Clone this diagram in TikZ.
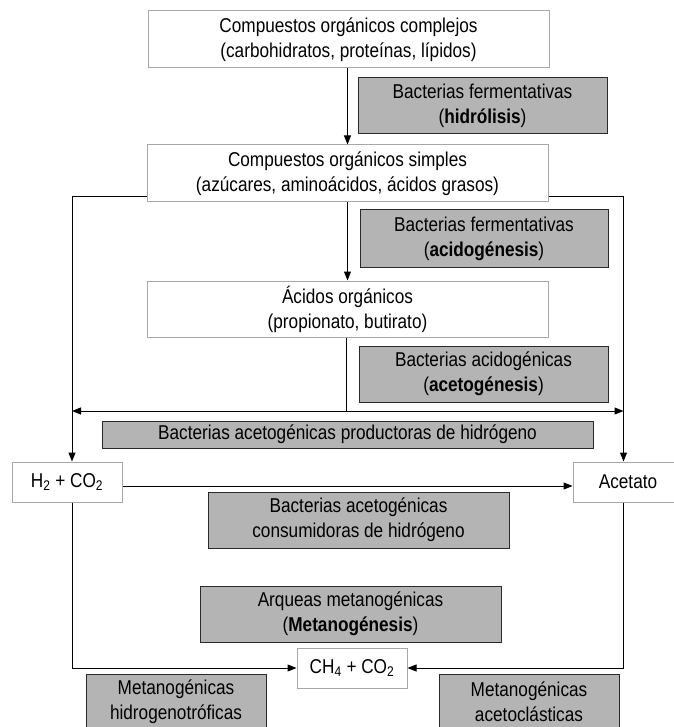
\documentclass[tikz,border=0pt]{standalone}
\usepackage{fontspec}
\setmainfont{Liberation Sans}[FakeStretch=0.86]
\usetikzlibrary{arrows.meta}
\definecolor{boxgray}{HTML}{B4B4B4}
\definecolor{wborder}{HTML}{A8A8A8}
\definecolor{gborder}{HTML}{2A2A2A}
\begin{document}
\begin{tikzpicture}[x=1pt,y=-1pt,
  every node/.style={font=\fontsize{20}{25}\selectfont, align=center, inner sep=0pt},
  wbox/.style={draw=wborder, fill=white, line width=1pt},
  gbox/.style={draw=gborder, fill=boxgray, line width=1pt},
  conn/.style={line width=1pt},
  arr/.style={conn, -{Triangle[length=9pt,width=7pt]}},
  darr/.style={conn, {Triangle[length=9pt,width=7pt]}-{Triangle[length=9pt,width=7pt]}}]
\useasboundingbox (0,0) rectangle (673,727);
\fill[white] (0,0) rectangle (673,727);
% white boxes
\node[wbox, minimum width=401pt, minimum height=57pt] (b1) at (348.5,39.5)
  {Compuestos orgánicos complejos\\(carbohidratos, proteínas, lípidos)};
\node[wbox, minimum width=401pt, minimum height=57pt] (b2) at (347.5,173.5)
  {Compuestos orgánicos simples\\(azúcares, aminoácidos, ácidos grasos)};
\node[wbox, minimum width=401pt, minimum height=56pt] (b3) at (347.5,309)
  {Ácidos orgánicos\\(propionato, butirato)};
\node[wbox, minimum width=110pt, minimum height=40pt] (h2) at (67,482)
  {H\textsubscript{2} + CO\textsubscript{2}};
\node[wbox, minimum width=106pt, minimum height=40pt] (ac) at (626,482) {};
\node (actxt) at (628,482) {Acetato};
\node[wbox, minimum width=110pt, minimum height=40pt] (ch4) at (352,668)
  {CH\textsubscript{4} + CO\textsubscript{2}};
% gray boxes
\node[gbox, minimum width=249pt, minimum height=56pt] (g1) at (482.5,106)
  {Bacterias fermentativas\\(\textbf{hidrólisis})};
\node[gbox, minimum width=248pt, minimum height=57pt] (g2) at (484,238.5)
  {Bacterias fermentativas\\(\textbf{acidogénesis})};
\node[gbox, minimum width=249pt, minimum height=56pt] (g3) at (483.5,374)
  {Bacterias acidogénicas\\(\textbf{acetogénesis})};
\node[gbox, minimum width=491pt, minimum height=27pt] (g4) at (347.5,434.5)
  {Bacterias acetogénicas productoras de hidrógeno};
\node[gbox, minimum width=301pt, minimum height=56pt] (g5) at (358.5,520)
  {Bacterias acetogénicas\\consumidoras de hidrógeno};
\node[gbox, minimum width=301pt, minimum height=56pt] (g6) at (350.5,614)
  {Arqueas metanogénicas\\(\textbf{Metanogénesis})};
\node[gbox, minimum width=180pt, minimum height=56pt] (g7) at (176,702)
  {Metanogénicas\\hidrogenotróficas};
\node[gbox, minimum width=180pt, minimum height=56pt] (g8) at (529,702)
  {Metanogénicas\\acetoclásticas};
% coordinates
\coordinate (L) at (72,0);
\coordinate (R) at (623.5,0);
\coordinate (dl) at (72,411);
\coordinate (dr) at (623.5,411);
\coordinate (dm) at (346,411);
% connectors
\draw[arr] (b1.south -| 347.5,0) -- (b2.north -| 347.5,0);
\draw[arr] (b2.south -| 347.5,0) -- (b3.north -| 347.5,0);
\draw[conn] (b3.south -| dm) -- (dm);
\draw[darr] (dl) -- (dr);
\draw[arr] ([yshift=6pt]b2.south west) -| (L |- h2.north);
\draw[arr] ([yshift=6pt]b2.south east) -| (R |- ac.north);
\draw[arr] ([yshift=-4pt]h2.east) -- ([yshift=-4pt]ac.west);
\draw[arr] (L |- h2.south) |- (ch4.west);
\draw[arr] (R |- ac.south) |- (ch4.east);
\end{tikzpicture}
\end{document}
